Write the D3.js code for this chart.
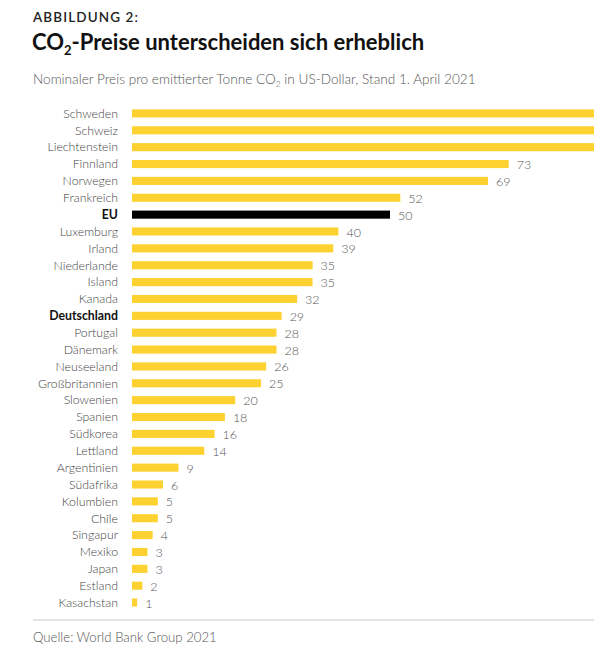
<!DOCTYPE html>
<html>
<head>
<meta charset="utf-8">
<script src="https://cdn.jsdelivr.net/npm/d3@7"></script>
<style>
  body { margin: 0; background: #fff; }
  svg { display: block; font-family: Lato, "Open Sans", sans-serif; }
</style>
</head>
<body>
<div id="svg-container"></div>
<script>
let countries = ['Schweden', 'Schweiz', 'Liechtenstein', 'Finnland', 'Norwegen', 'Frankreich', 'EU',
  'Luxemburg', 'Irland', 'Niederlande', 'Island', 'Kanada', 'Deutschland', 'Portugal', 'Dänemark',
  'Neuseeland', 'Großbritannien', 'Slowenien', 'Spanien', 'Südkorea', 'Lettland', 'Argentinien',
  'Südafrika', 'Kolumbien', 'Chile', 'Singapur', 'Mexiko', 'Japan', 'Estland', 'Kasachstan'];
let prices = [137, 101, 101, 73, 69, 52, 50, 40, 39, 35, 35, 32, 29, 28, 28, 26, 25, 20, 18, 16, 14, 9, 6, 5, 5, 4, 3, 3, 2, 1];
let highlight = ['EU', 'Deutschland'];

let w = 594;
let h = 652;

let svg = d3.select('#svg-container').
append('svg').
attr('width', w).
attr('height', h);

// headings
svg.append('text').
attr('x', 33).attr('y', 22).
attr('font-size', 13.5).
attr('font-weight', 600).
attr('letter-spacing', 1.1).
attr('fill', '#222').
text('ABBILDUNG 2:');

let title = svg.append('text').
attr('x', 32).attr('y', 50).
attr('font-size', 22).
attr('font-weight', 700).
attr('fill', '#111');
title.append('tspan').text('CO');
title.append('tspan').attr('font-size', 13).attr('dy', 5).text('2');
title.append('tspan').attr('dy', -5).text('-Preise unterscheiden sich erheblich');

let sub = svg.append('text').
attr('x', 33).attr('y', 84).
attr('font-size', 13.6).
attr('font-weight', 300).
attr('fill', '#555');
sub.append('tspan').text('Nominaler Preis pro emittierter Tonne CO');
sub.append('tspan').attr('font-size', 8.5).attr('dy', 3).text('2');
sub.append('tspan').attr('dy', -3).text(' in US-Dollar, Stand 1. April 2021');

// scales
let x = d3.scaleLinear().
domain([0, 50]).
range([132, 390]);

let y = d3.scaleBand().
domain(countries).
range([105, 611]).
paddingInner(0.52).
paddingOuter(0.26);

let chart = svg.append('g');

chart.selectAll('rect').
data(countries).
enter().
append('rect').
attr('x', x(0)).
attr('y', d => y(d)).
attr('height', y.bandwidth()).
attr('width', (d, i) => x(prices[i]) - x(0)).
attr('fill', d => d === 'EU' ? '#000' : '#fdd12f');

chart.selectAll('.name').
data(countries).
enter().
append('text').
attr('class', 'name').
attr('x', 118).
attr('y', d => y(d) + y.bandwidth() / 2).
attr('dy', '0.35em').
attr('text-anchor', 'end').
attr('font-size', 12.3).
attr('font-weight', d => highlight.includes(d) ? 700 : 300).
attr('fill', d => highlight.includes(d) ? '#111' : '#444').
text(d => d);

// value labels - the top three bars run out of the frame, so no label there
let shown = countries.filter((d, i) => x(prices[i]) + 30 < w);

chart.selectAll('.val').
data(shown).
enter().
append('text').
attr('class', 'val').
attr('x', d => x(prices[countries.indexOf(d)]) + 8).
attr('y', d => y(d) + y.bandwidth() / 2).
attr('dy', '0.4em').
attr('font-size', 12.5).
attr('font-weight', 300).
attr('fill', '#555').
text(d => prices[countries.indexOf(d)]);

// footer
svg.append('line').
attr('x1', 33).attr('x2', w).
attr('y1', 620).attr('y2', 620).
attr('stroke', '#c8c8c8').
attr('stroke-width', 1);

svg.append('text').
attr('x', 33).attr('y', 642).
attr('font-size', 13.2).
attr('font-weight', 300).
attr('fill', '#555').
text('Quelle: World Bank Group 2021');
</script>
</body>
</html>
